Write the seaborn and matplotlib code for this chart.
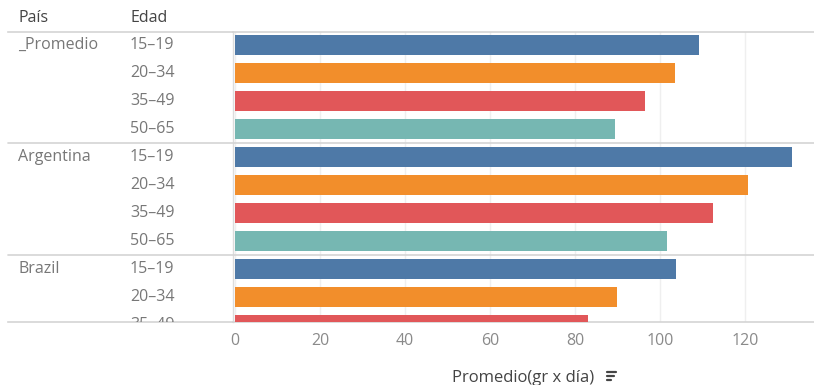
import matplotlib
matplotlib.use("Agg")
import matplotlib.pyplot as plt
from matplotlib.lines import Line2D
import seaborn as sns
import pandas as pd

# Consumption by country and age group (grams per day)
paises = ["_Promedio", "_Promedio", "_Promedio", "_Promedio",
          "Argentina", "Argentina", "Argentina", "Argentina",
          "Brazil", "Brazil", "Brazil"]
edades = ["15–19", "20–34", "35–49", "50–65",
          "15–19", "20–34", "35–49", "50–65",
          "15–19", "20–34", "35–49"]
promedio = [109.2, 103.5, 96.5, 89.3,
            131.0, 120.6, 112.4, 101.6,
            103.8, 89.8, 83.1]
grupos_edad = ["15–19", "20–34", "35–49", "50–65"]
colores = ["#4e79a7", "#f28e2b", "#e15759", "#76b7b2"]
ticks_x = [0, 20, 40, 60, 80, 100, 120]

df = pd.DataFrame({"País": paises, "Edad": edades, "Promedio": promedio})
df["fila"] = [f"{p}|{e}" for p, e in zip(paises, edades)]

sns.set_theme(style="white")
plt.rcParams["font.family"] = ["Open Sans", "DejaVu Sans"]

W, H = 814, 385
fig = plt.figure(figsize=(W / 100, H / 100), dpi=100)

top_px, bottom_px, split_px = 32, 322, 233
ax = fig.add_axes([split_px / W, 1 - bottom_px / H, 1 - split_px / W, (bottom_px - top_px) / H])
axl = fig.add_axes([0, 1 - bottom_px / H, split_px / W, (bottom_px - top_px) / H])

sns.barplot(data=df, y="fila", x="Promedio", hue="Edad", hue_order=grupos_edad,
            palette=colores, dodge=False, width=0.72, orient="h",
            legend=False, ax=ax, saturation=1, edgecolor="none", zorder=3)

ylim = (9.89, -0.46)
ax.set_ylim(*ylim)
ax.set_xlim(-0.47, 136.2)
ax.set_xticks(ticks_x)
ax.set_xticklabels([str(t) for t in ticks_x])
ax.set_yticks([])
ax.set_ylabel("")
ax.set_xlabel("Promedio(gr x día)", fontsize=12, color="#444444", labelpad=15)
ax.tick_params(axis="x", length=0, pad=8, labelsize=11.5, labelcolor="#8a8a8a")
ax.grid(axis="x", color="#efefef", linewidth=1, zorder=0)

line_c = "#d4d4d4"
for a in (ax, axl):
    for s in ("top", "bottom"):
        a.spines[s].set_color(line_c)
        a.spines[s].set_linewidth(1.2)
    a.spines["right"].set_visible(False)
    for y in (3.5, 7.5):
        a.axhline(y, color=line_c, linewidth=1.2, zorder=4)
ax.spines["left"].set_color("#dcdcdc")
ax.spines["left"].set_linewidth(1.0)

# Row labels panel
axl.set_xlim(0, split_px)
axl.set_ylim(*ylim)
axl.set_xticks([])
axl.set_yticks([])
axl.spines["left"].set_visible(False)
axl.spines["top"].set_bounds(8, split_px)
axl.spines["bottom"].set_bounds(8, split_px)
axl.set_facecolor("none")
for a_line in axl.lines:
    a_line.set_xdata([8 / split_px, 1])

label_c = "#777777"
prev = None
for i, (p, e) in enumerate(zip(paises, edades)):
    if p != prev:
        axl.text(18, i, p, va="center", ha="left", fontsize=11.5, color=label_c, clip_on=True)
        prev = p
    axl.text(130, i, e, va="center", ha="left", fontsize=11.5, color=label_c, clip_on=True)

fig.text(18 / W, 1 - 18 / H, "País", fontsize=11.5, color="#444444", va="center")
fig.text(130 / W, 1 - 18 / H, "Edad", fontsize=11.5, color="#444444", va="center")

# Sort indicator next to the axis title
for k, ln in enumerate((9, 7, 4)):
    y = 1 - (372 + 4 * k) / H
    fig.add_artist(Line2D([607 / W, (607 + ln) / W], [y, y], color="#444444", linewidth=1.6))

fig.savefig("out.png", dpi=100)
